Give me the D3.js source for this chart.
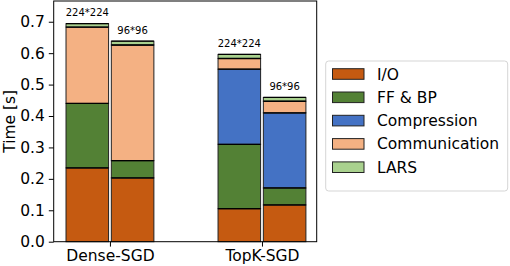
<!DOCTYPE html>
<html><head><meta charset="utf-8">
<script src="https://cdn.jsdelivr.net/npm/d3@7/dist/d3.min.js"></script>
<style>body{margin:0;background:#fff}svg{display:block;font-family:"DejaVu Sans",sans-serif}</style>
</head><body>
<svg id="c" width="510" height="266"></svg>
<script>
const groups = ["Dense-SGD", "TopK-SGD"];
const resolutions = ["224*224", "96*96"];
const components = ["I/O", "FF & BP", "Compression", "Communication", "LARS"];
const colors = ["#c55a11", "#538135", "#4472c4", "#f4b183", "#a9d18e"];
// values per bar, in component order
const dense224 = [0.235, 0.205, 0.0, 0.243, 0.011];
const dense96  = [0.203, 0.055, 0.0, 0.368, 0.012];
const topk224  = [0.105, 0.205, 0.239, 0.034, 0.013];
const topk96   = [0.117, 0.054, 0.239, 0.037, 0.012];
const yTicks = [0.0, 0.1, 0.2, 0.3, 0.4, 0.5, 0.6, 0.7];

const bars = [
  {g:0, r:0, vals:dense224},
  {g:0, r:1, vals:dense96},
  {g:1, r:0, vals:topk224},
  {g:1, r:1, vals:topk96}
];

const svg = d3.select("#c");
const L = 53.7, R = 316.7, T = 1, B = 241.7;
const x = d3.scaleLinear().domain([-0.37, 1.36]).range([L, R]);
const y = d3.scaleLinear().domain([0, 0.766]).range([B, T]);
const bw = 0.28, off = 0.149;

const g = svg.append("g");
bars.forEach(b => {
  const cx = b.g + (b.r === 0 ? -off : off);
  const x0 = x(cx - bw/2), x1 = x(cx + bw/2);
  let acc = 0;
  b.vals.forEach((v, i) => {
    if (v <= 0) return;
    const y0 = y(acc), y1 = y(acc + v);
    g.append("rect").attr("x", x0).attr("y", y1).attr("width", x1 - x0).attr("height", y0 - y1)
      .attr("fill", colors[i]).attr("stroke", "#222").attr("stroke-width", 1);
    acc += v;
  });
  acc = 0;
  b.vals.forEach((v, i) => {
    if (v <= 0) return;
    acc += v;
    g.append("line").attr("x1", x0).attr("x2", x1).attr("y1", y(acc)).attr("y2", y(acc))
      .attr("stroke", "#000").attr("stroke-width", 1.3);
  });
  svg.append("text").attr("x", (x0 + x1)/2).attr("y", y(acc) - 7.5)
    .attr("text-anchor", "middle").attr("font-size", 10).text(resolutions[b.r]);
});

svg.append("rect").attr("x", L).attr("y", T).attr("width", R - L).attr("height", B - T)
  .attr("fill", "none").attr("stroke", "#000").attr("stroke-width", 1);

const ya = svg.append("g").attr("transform", `translate(${L},0)`)
  .call(d3.axisLeft(y).tickValues(yTicks).tickFormat(d3.format(".1f")).tickSize(4.9).tickPadding(4));
ya.select(".domain").remove();
ya.selectAll("text").attr("font-size", 15.5).attr("font-family", "DejaVu Sans").attr("fill", "#000");
ya.selectAll("line").attr("stroke", "#000");

const xa = svg.append("g").attr("transform", `translate(0,${B})`)
  .call(d3.axisBottom(x).tickValues([0, 1]).tickFormat(i => groups[i]).tickSize(4.9).tickPadding(3));
xa.select(".domain").remove();
xa.selectAll("text").attr("font-size", 15.5).attr("font-family", "DejaVu Sans").attr("fill", "#000");
xa.selectAll("line").attr("stroke", "#000");

svg.append("text").attr("transform", `translate(14.5,${(T+B)/2}) rotate(-90)`)
  .attr("text-anchor", "middle").attr("font-size", 15.5).text("Time [s]");

const lg = svg.append("g");
lg.append("rect").attr("x", 325.7).attr("y", 61).attr("width", 182).attr("height", 130).attr("rx", 3)
  .attr("fill", "#fff").attr("stroke", "#d5d5d5").attr("stroke-width", 1);
components.forEach((c, i) => {
  const cy = 74 + i * 23.3;
  lg.append("rect").attr("x", 332.5).attr("y", cy - 5.3).attr("width", 31.5).attr("height", 10.6)
    .attr("fill", colors[i]).attr("stroke", "#222").attr("stroke-width", 1);
  lg.append("text").attr("x", 377).attr("y", cy + 5.5).attr("font-size", 15.5).text(c);
});
</script>
</body></html>
